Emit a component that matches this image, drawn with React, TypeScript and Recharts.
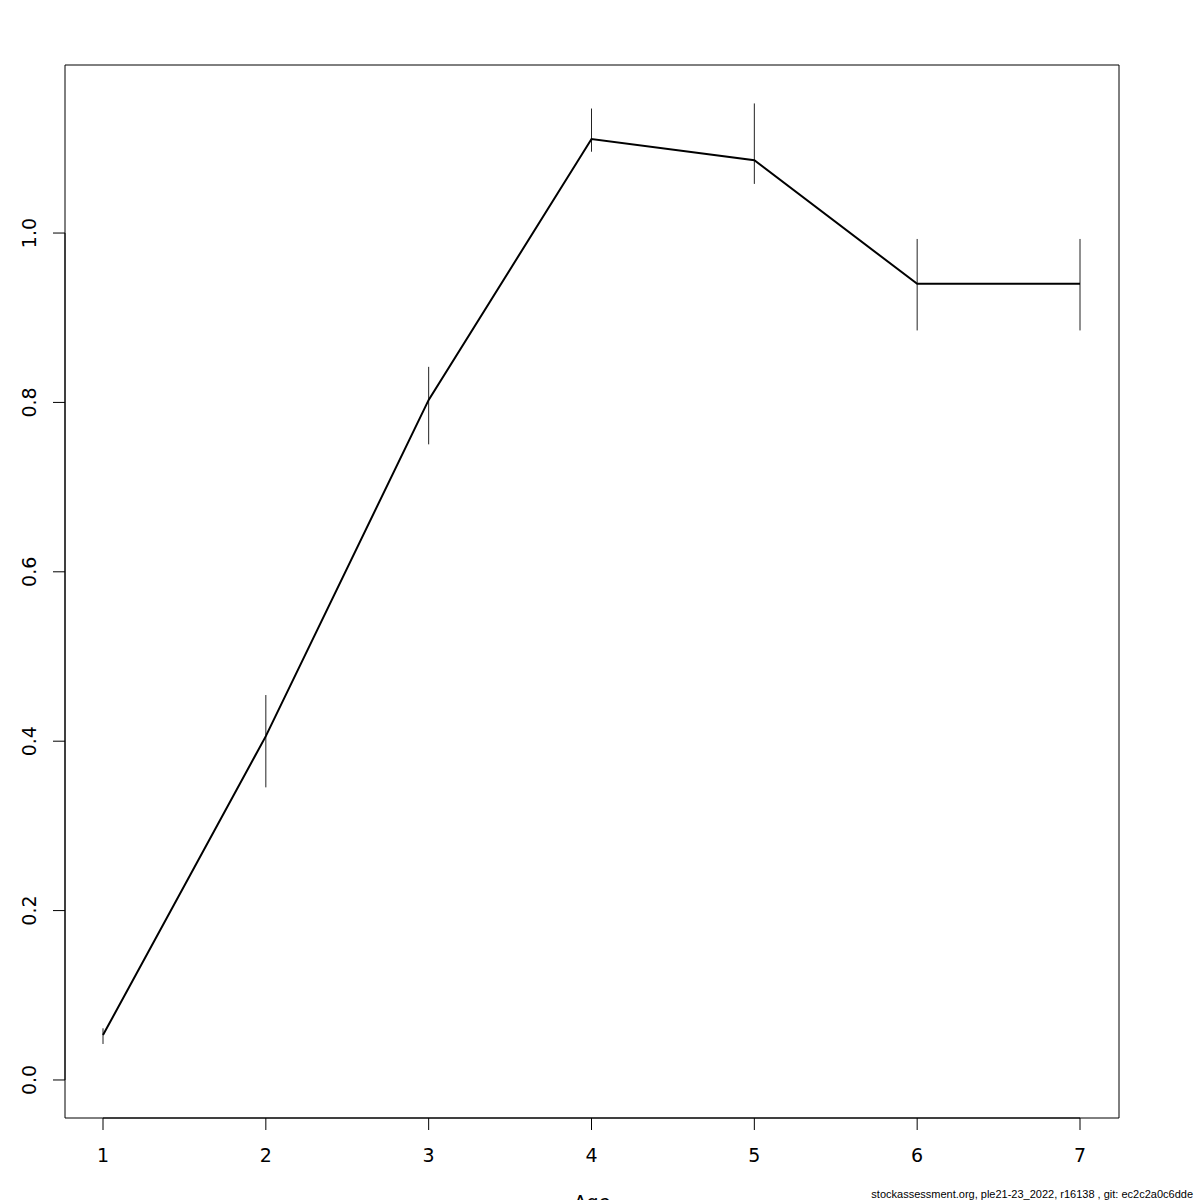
import React from "react";
import {
  ComposedChart,
  Line,
  XAxis,
  YAxis,
  ErrorBar,
  ReferenceArea,
  ReferenceLine,
} from "recharts";

const ages = [1, 2, 3, 4, 5, 6, 7];
const estimate = [0.053, 0.406, 0.803, 1.111, 1.086, 0.94, 0.94];
const lower = [0.0425, 0.3455, 0.7505, 1.096, 1.058, 0.885, 0.885];
const upper = [0.061, 0.4545, 0.842, 1.147, 1.153, 0.993, 0.993];

const xTicks = [1, 2, 3, 4, 5, 6, 7];
const yTicks = [0, 0.2, 0.4, 0.6, 0.8, 1.0];
const xDomain: [number, number] = [0.7666, 7.2395];
const yDomain: [number, number] = [-0.0449, 1.1984];

const xLabel = "Age";
const footer = "stockassessment.org, ple21-23_2022, r16138 , git: ec2c2a0c6dde";

const data = ages.map((a, i) => ({
  age: a,
  est: estimate[i],
  err: [estimate[i] - lower[i], upper[i] - estimate[i]],
}));

const FONT = "DejaVu Sans, Verdana, sans-serif";

const XTick = (props: any) => {
  const { x, y, payload } = props;
  return (
    <text
      x={x}
      y={y + 30}
      textAnchor="middle"
      fontSize={19}
      fontFamily={FONT}
      fill="#000"
    >
      {String(payload.value)}
    </text>
  );
};

const YTick = (props: any) => {
  const { x, y, payload } = props;
  return (
    <text
      transform={`translate(${x - 15},${y}) rotate(-90)`}
      textAnchor="middle"
      fontSize={19}
      fontFamily={FONT}
      fill="#000"
    >
      {Number(payload.value).toFixed(1)}
    </text>
  );
};

export default function App() {
  return (
    <div
      style={{
        position: "absolute",
        left: 0,
        top: 0,
        width: 1200,
        height: 1200,
        background: "#fff",
      }}
    >
      <ComposedChart
        width={1200}
        height={1200}
        data={data}
        margin={{ top: 65, right: 81, left: 0, bottom: 0 }}
      >
        <XAxis
          dataKey="age"
          type="number"
          domain={xDomain}
          allowDataOverflow
          ticks={xTicks}
          height={82}
          axisLine={false}
          tickLine={{ stroke: "#000", strokeWidth: 1 }}
          tickSize={12}
          tickMargin={2}
          tick={<XTick />}
          interval={0}
        />
        <YAxis
          type="number"
          domain={yDomain}
          allowDataOverflow
          ticks={yTicks}
          width={65}
          axisLine={false}
          tickLine={{ stroke: "#000", strokeWidth: 1 }}
          tickSize={12}
          tickMargin={2}
          tick={<YTick />}
          interval={0}
        />
        <ReferenceArea
          x1={xDomain[0]}
          x2={xDomain[1]}
          y1={yDomain[0]}
          y2={yDomain[1]}
          fill="none"
          fillOpacity={0}
          stroke="#000"
          strokeWidth={1}
          ifOverflow="visible"
        />
        <ReferenceLine
          segment={[
            { x: xDomain[0], y: yTicks[0] },
            { x: xDomain[0], y: yTicks[yTicks.length - 1] },
          ]}
          stroke="#000"
          strokeWidth={1}
          ifOverflow="visible"
        />
        <ReferenceLine
          segment={[
            { x: xTicks[0], y: yDomain[0] },
            { x: xTicks[xTicks.length - 1], y: yDomain[0] },
          ]}
          stroke="#000"
          strokeWidth={1}
          ifOverflow="visible"
        />
        <Line
          type="linear"
          dataKey="est"
          stroke="#000"
          strokeWidth={2}
          dot={false}
          activeDot={false}
          isAnimationActive={false}
        >
          <ErrorBar
            dataKey="err"
            direction="y"
            width={0}
            stroke="#222"
            strokeWidth={1}
            isAnimationActive={false}
          />
        </Line>
      </ComposedChart>
      <svg
        width={1200}
        height={1200}
        style={{ position: "absolute", left: 0, top: 0, pointerEvents: "none" }}
      >
        <text
          x={592}
          y={1209}
          textAnchor="middle"
          fontSize={19}
          fontFamily={FONT}
          fill="#000"
        >
          {xLabel}
        </text>
        <text
          x={1193}
          y={1198}
          textAnchor="end"
          fontSize={11}
          fontFamily="Liberation Sans, Arial, sans-serif"
          fill="#000"
        >
          {footer}
        </text>
      </svg>
    </div>
  );
}
